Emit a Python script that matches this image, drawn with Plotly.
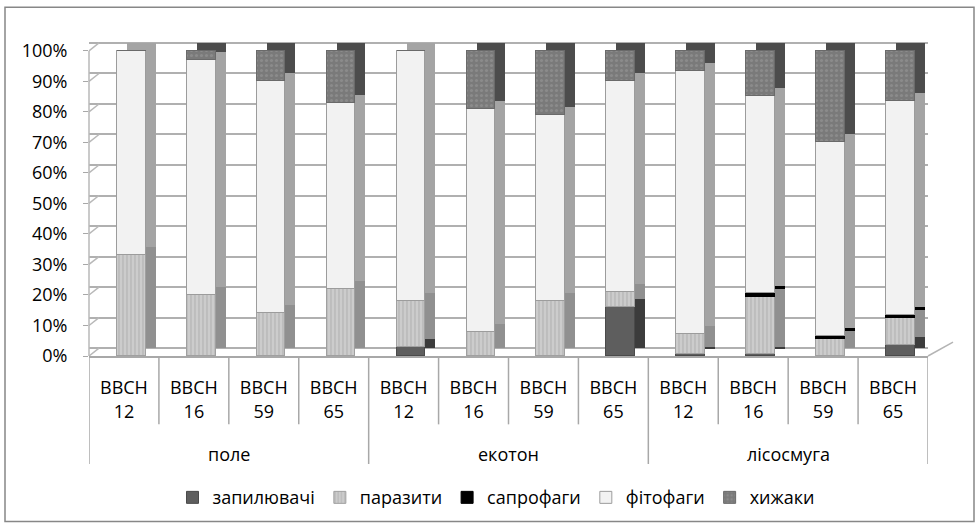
import plotly.graph_objects as go

# Habitat groups and growth stages
groups = ["поле", "екотон", "лісосмуга"]
stages = ["BBCH<br>12", "BBCH<br>16", "BBCH<br>59", "BBCH<br>65"]

# Share of each trophic group, % (order: поле x4, екотон x4, лісосмуга x4)
zapyluvachi = [0, 0, 0, 0, 3, 0, 0, 16, 0.5, 0.5, 0, 3.5]
parazyty = [33, 20, 14, 22, 15, 8, 18, 5, 6.6, 19, 5.5, 9]
saprofagy = [0, 0, 0, 0, 0, 0, 0, 0, 0, 1, 1, 1]
fitofagy = [67, 77, 76, 61, 82, 73, 61, 69, 86.4, 64.7, 63.8, 70.1]
khyzhaky = [0, 3, 10, 17, 0, 19, 21, 10, 6.5, 14.8, 29.7, 16.4]

series = [
    ("запилювачі", zapyluvachi),
    ("паразити", parazyty),
    ("сапрофаги", saprofagy),
    ("фітофаги", fitofagy),
    ("хижаки", khyzhaky),
]

FONT = "Open Sans"
FS = 18
W, H = 976, 528
ML, MR, MT, MB = 89, 48, 38, 169
PW = W - ML - MR            # plot width, px
PH = H - MT - MB            # plot height, px
BASE = H - MB               # pixel row of 0 %
TOP100 = 51                 # pixel row of 100 % on the front face
PX_PER_PCT = (BASE - TOP100) / 100
n = len(groups) * len(stages)
UNIT = PW / n               # px per category

BAR_W = 0.41
FRONT_OFF = -0.10
DEPTH_X, DEPTH_Y = 10, 8    # extrusion of the columns, px


def py(row):
    """Paper y for a pixel row."""
    return (BASE - row) / PH


front_style = {
    "запилювачі": dict(color="#5e5e5e", line=dict(color="#4a4a4a", width=1)),
    "паразити": dict(color="#c8c8c8", line=dict(color="#a0a0a0", width=1),
                     pattern=dict(shape="|", bgcolor="#cccccc", fgcolor="#a2a2a2",
                                  size=4, solidity=0.35)),
    "сапрофаги": dict(color="#000000", line=dict(color="#000000", width=1)),
    "фітофаги": dict(color="#f2f2f2", line=dict(color="#9c9c9c", width=1)),
    "хижаки": dict(color="#7c7c7c", line=dict(color="#6a6a6a", width=1),
                   pattern=dict(shape=".", bgcolor="#7a7a7a", fgcolor="#9c9c9c",
                                size=5, solidity=0.3)),
}
side_color = {
    "запилювачі": "#3c3c3c",
    "паразити": "#909090",
    "сапрофаги": "#000000",
    "фітофаги": "#a4a4a4",
    "хижаки": "#4c4c4c",
}

xs = list(range(n))
fig = go.Figure()

# Side/top faces: same stacks, drawn on the axis lifted by the depth
for name, vals in series:
    fig.add_trace(go.Bar(
        x=xs, y=vals, name=name, showlegend=False, hoverinfo="skip",
        width=BAR_W, offset=FRONT_OFF + DEPTH_X / UNIT,
        marker=dict(color=side_color[name], line=dict(width=0)),
        xaxis="x", yaxis="y",
    ))

# Front faces
for name, vals in series:
    fig.add_trace(go.Bar(
        x=xs, y=vals, name=name,
        width=BAR_W, offset=FRONT_OFF,
        marker=front_style[name],
        xaxis="x", yaxis="y2",
    ))

ticks = list(range(0, 101, 10))
front_range = [0, PH / PX_PER_PCT]
lift = DEPTH_Y / PX_PER_PCT
back_range = [-lift, PH / PX_PER_PCT - lift]

shapes = []
# Cell dividers under the category axis
for k in range(n + 1):
    xb = k - 0.5
    is_group = k % len(stages) == 0
    end_row = 468 if is_group else 428
    shapes.append(dict(type="line", xref="x", yref="paper",
                       x0=xb, x1=xb, y0=0, y1=py(end_row),
                       line=dict(color="#a8a8a8", width=1.5)))
# Front edge of the left wall
shapes.append(dict(type="line", xref="paper", yref="y2",
                   x0=0, x1=0, y0=0, y1=100,
                   line=dict(color="#b8b8b8", width=1.5)))
# Left wall: slanted lines joining each tick to its gridline
for t in ticks:
    shapes.append(dict(type="line", xref="paper", yref="y2",
                       x0=0, y0=t, x1=DEPTH_X / PW, y1=t + lift,
                       line=dict(color="#b8b8b8", width=1.5)))
# Floor edge on the right
shapes.append(dict(type="line", xref="paper", yref="paper",
                   x0=1.0, y0=0, x1=(953 - ML) / PW, y1=py(345),
                   line=dict(color="#b4b4b4", width=1.5)))
# Chart frame
shapes.append(dict(type="rect", xref="paper", yref="paper",
                   x0=(5 - ML) / PW, x1=(974 - ML) / PW,
                   y0=py(526), y1=py(7),
                   line=dict(color="#878787", width=1.5)))

annotations = []
for g, name in enumerate(groups):
    annotations.append(dict(
        x=g * len(stages) + (len(stages) - 1) / 2, xref="x",
        y=py(458), yref="paper",
        text=name, showarrow=False,
        font=dict(family=FONT, size=FS, color="#000000"),
        xanchor="center", yanchor="middle"))

fig.update_layout(
    width=W, height=H,
    margin=dict(l=ML, r=MR, t=MT, b=MB),
    paper_bgcolor="white", plot_bgcolor="white",
    barmode="stack", barnorm="percent", bargap=0,
    font=dict(family=FONT, size=FS, color="#000000"),
    xaxis=dict(
        range=[-0.5, n - 0.5], tickvals=xs, ticktext=stages * len(groups),
        showgrid=False, zeroline=False, ticks="",
        showline=True, linecolor="#a8a8a8", linewidth=1.5,
        tickfont=dict(family=FONT, size=FS), ticklabelstandoff=15,
    ),
    yaxis=dict(
        range=back_range, tickvals=ticks,
        showgrid=True, gridcolor="#b0b0b0", gridwidth=2,
        showticklabels=False, zeroline=False, showline=False,
    ),
    yaxis2=dict(
        overlaying="y", side="left", range=front_range, tickvals=ticks,
        ticktext=[f"{t}%" for t in ticks],
        showgrid=False, zeroline=False, showline=False,
        ticks="outside", ticklen=5, tickcolor="#a8a8a8",
        tickfont=dict(family=FONT, size=FS), ticklabelstandoff=12,
    ),
    legend=dict(
        orientation="h", x=(496 - ML) / PW, xanchor="center",
        y=py(502), yanchor="middle", itemwidth=30,
        font=dict(family=FONT, size=FS), traceorder="normal",
    ),
    shapes=shapes, annotations=annotations,
)

fig.write_html("out.html")
